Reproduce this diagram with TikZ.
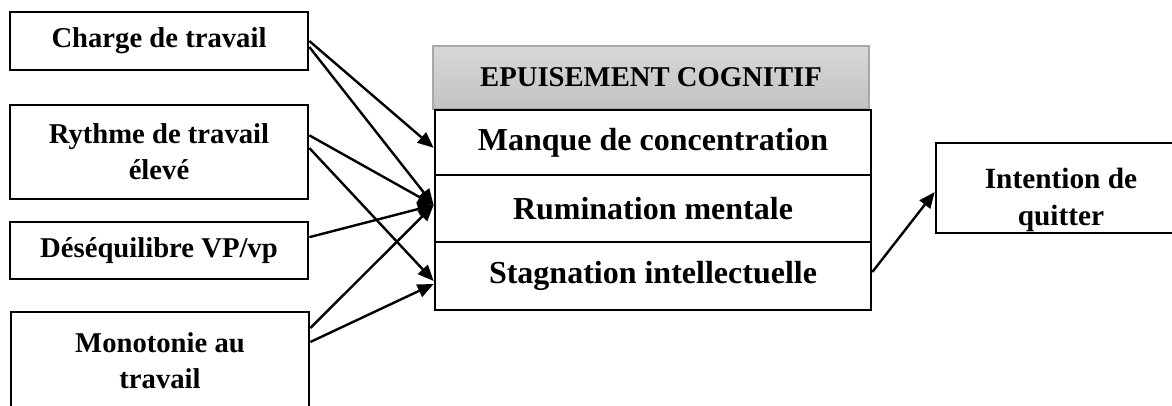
\documentclass[tikz,border=0pt]{standalone}
\usepackage{fontspec}
\setmainfont{Liberation Serif}
\usetikzlibrary{arrows.meta}
\definecolor{headtop}{RGB}{216,216,216}
\definecolor{headbot}{RGB}{194,194,194}
\definecolor{headline}{RGB}{168,168,168}
\tikzset{
  cause/.style={draw,line width=2pt,minimum width=223.5pt,align=center,
    font=\fontsize{21.5}{27}\selectfont\bfseries},
  effect/.style={draw,line width=2pt,minimum width=327pt,align=center,
    font=\fontsize{24}{28}\selectfont\bfseries},
  link/.style={line width=1.8pt,-{Triangle[length=12pt,width=10pt]}}
}
\begin{document}
\begin{tikzpicture}[x=0.75pt,y=-0.75pt]
\useasboundingbox (0,0) rectangle (1172,405);
% causes on the left
\node[cause,minimum height=43.5pt] (charge) at (159,41) {Charge de travail};
\node[cause,minimum height=70.5pt] (rythme) at (159,152) {Rythme de travail\\élevé};
\node[cause,minimum height=42.75pt] (desequ) at (159,250.5) {Déséquilibre VP/vp};
\node[cause,minimum height=73.5pt] (monot) at (160,361) {Monotonie au\\travail};
% the middle block
\node[effect,draw=headline,line width=1pt,top color=headtop,bottom color=headbot,
  minimum width=327pt,minimum height=47.25pt,font=\fontsize{21.5}{23}\selectfont\bfseries]
  (epuis) at (651,77.5) {EPUISEMENT COGNITIF};
\node[effect,minimum height=48.75pt] (manque) at (653,142.5) {Manque de concentration};
\node[effect,minimum height=50.25pt] (rumin) at (653,208.5) {Rumination mentale};
\node[effect,minimum height=51pt] (stagn) at (653,276) {Stagnation intellectuelle};
% outcome
\node[draw,line width=2pt,minimum width=187.5pt,minimum height=67.5pt,
  label={[yshift=-9pt,align=center,font=\fontsize{22}{28}\selectfont\bfseries]center:Intention de\\quitter}]
  (quitter) at (1061,188) {};
% links
\draw[link] (charge.east) -- ([yshift=-4pt]manque.west);
\draw[link] ([yshift=-4.5pt]charge.east) -- ([yshift=2.6pt]rumin.west);
\draw[link] ([yshift=12.5pt]rythme.east) -- ([yshift=2.6pt]rumin.west);
\draw[link] ([yshift=3pt]rythme.east) -- ([yshift=-3.75pt]stagn.west);
\draw[link] ([yshift=10pt]desequ.east) -- ([yshift=2.6pt]rumin.west);
\draw[link] ([yshift=24.75pt]monot.east) -- ([yshift=2.6pt]rumin.west);
\draw[link] ([yshift=14.25pt]monot.east) -- ([yshift=-6pt]stagn.west);
\draw[link] ([yshift=3pt]stagn.east) -- ([yshift=-3pt]quitter.west);
\end{tikzpicture}
\end{document}
